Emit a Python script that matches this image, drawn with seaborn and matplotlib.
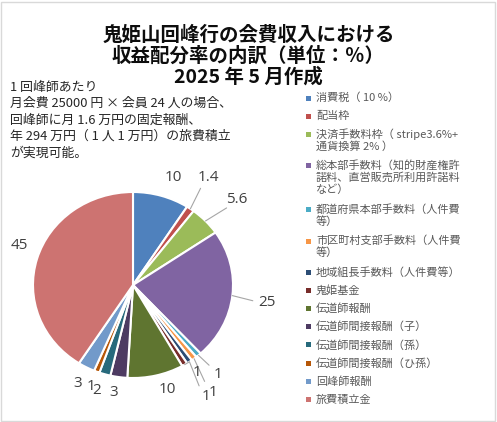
import matplotlib
matplotlib.use('Agg')
import numpy as np
import seaborn as sns
import matplotlib.pyplot as plt
from matplotlib.patches import Rectangle

# chart data
categories = ['消費税（ 10 %）', '配当枠', '決済手数料枠（ stripe3.6%+\n通貨換算 2% ）',
              '総本部手数料（知的財産権許\n諾料、直営販売所利用許諾料\nなど）',
              '都道府県本部手数料（人件費\n等）', '市区町村支部手数料（人件費\n等）',
              '地域組長手数料（人件費等）', '鬼姫基金', '伝道師報酬',
              '伝道師間接報酬（子）', '伝道師間接報酬（孫）', '伝道師間接報酬（ひ孫）',
              '回峰師報酬', '旅費積立金']
values = [10, 1.4, 5.6, 25, 1, 1, 1, 1, 10, 3, 2, 1, 3, 45]
value_labels = ['10', '1.4', '5.6', '25', '1', '1', '1', '1', '10', '3', '2', '1', '3', '45']

title_lines = ['鬼姫山回峰行の会費収入における', '収益配分率の内訳（単位：％）', '2025 年 5 月作成']
note_lines = ['1 回峰師あたり', '月会費 25000 円 × 会員 24 人の場合、', '回峰師に月 1.6 万円の固定報酬、',
              '年 294 万円（ 1 人 1 万円）の旅費積立', 'が実現可能。']

colors = ['#4F81BD', '#C0504D', '#9BBB59', '#8064A2', '#4BACC6', '#F79646',
          '#2C4D75', '#772C2A', '#5F7530', '#4D3B62', '#276A7C', '#B65708',
          '#729ACA', '#CD7371']

# label placement tweaks (angle nudge in degrees, radial distance)
label_nudge = [-3, 2, -2, -1.5, 0.5, -3, -3, 3, 4, -1.5, -1.3, 0.2, 0.2, -4]
label_dist = [1.22, 1.38, 1.39, 1.35, 1.29, 1.40, 1.41, 1.14, 1.18, 1.17, 1.19, 1.17, 1.19, 1.21]
leader = [False, True, True, True, True, True, True, True, False, False, False, False, False, False]

sns.set_style('white')
plt.rcParams['font.family'] = ['Noto Sans CJK JP', 'DejaVu Sans']

W, H = 497, 422
fig = plt.figure(figsize=(W / 100, H / 100), dpi=100)
fig.patches.append(Rectangle((0.002, 0.002), 0.994, 0.994, transform=fig.transFigure,
                             fill=False, edgecolor='#D9D9D9', linewidth=1))

ax = fig.add_axes([33 / W, 44 / H, 200 / W, 186 / H])
wedges, _ = ax.pie(values, colors=sns.color_palette(colors), startangle=90, counterclock=False,
                   wedgeprops=dict(edgecolor='white', linewidth=1.5))
ax.set_aspect('auto')
ax.set_xlim(-1, 1)
ax.set_ylim(-1, 1)
ax.axis('off')

for w, lab, dn, r, ld in zip(wedges, value_labels, label_nudge, label_dist, leader):
    mid = np.deg2rad((w.theta1 + w.theta2) / 2)
    ang = mid + np.deg2rad(dn)
    lx, ly = r * np.cos(ang), r * np.sin(ang)
    if ld:
        ex, ey = np.cos(mid), np.sin(mid)
        kx, ky = (r - 0.14) * np.cos(ang), (r - 0.14) * np.sin(ang)
        ax.plot([ex, kx], [ey, ky], color='#A6A6A6', linewidth=0.8, clip_on=False)
    ax.text(lx, ly, lab, ha='center', va='center', fontsize=11, color='#404040',
            family=['Open Sans', 'DejaVu Sans'])

for i, line in enumerate(title_lines):
    fig.text(0.5, 1 - (35 + 21 * i) / H, line, ha='center', va='center',
             fontsize=14, fontweight='bold', color='#0D0D0D')

for i, line in enumerate(note_lines):
    fig.text(10 / W, 1 - (87 + 16.5 * i) / H, line, ha='left', va='center',
             fontsize=9.3, color='#262626')

# legend, drawn entry by entry so wrapped labels get Excel-like line spacing
y = 98
for c, lab in zip(colors, categories):
    fig.patches.append(Rectangle(((308 - 2.5) / W, 1 - (y + 2.5) / H), 5 / W, 5 / H,
                                 transform=fig.transFigure, facecolor=c, edgecolor='none'))
    lines = lab.split('\n')
    for j, part in enumerate(lines):
        fig.text(316 / W, 1 - (y + 12 * j) / H, part, ha='left', va='center',
                 fontsize=8, color='#595959')
    y += 18.2 + 13 * (len(lines) - 1)

fig.savefig('out.png', dpi=100)
